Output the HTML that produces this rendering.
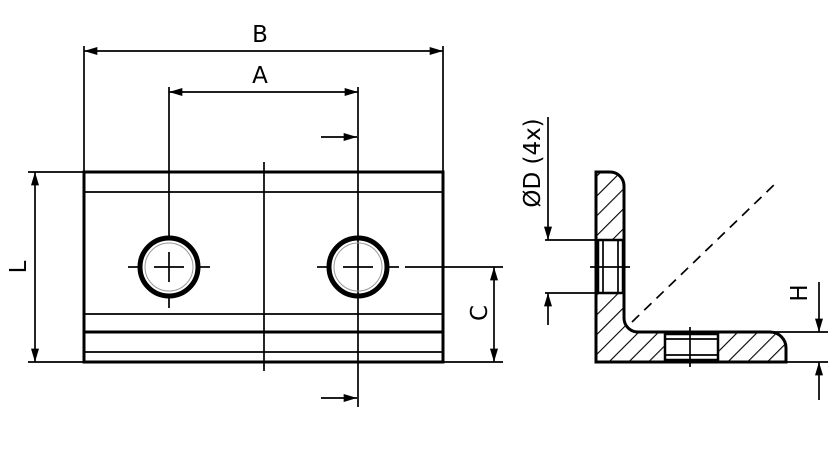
<!DOCTYPE html>
<html><head><meta charset="utf-8"><style>html,body{margin:0;padding:0;background:#fff}svg{display:block}</style></head><body>
<svg width="828" height="472" viewBox="0 0 828 472" xmlns="http://www.w3.org/2000/svg">
<defs>
<marker id="ar" viewBox="0 0 10 6" refX="10" refY="3" markerWidth="18" markerHeight="8" markerUnits="userSpaceOnUse" orient="auto-start-reverse"><path d="M0,0 L10,3 L0,6 Z" fill="#000"/></marker>
<pattern id="hat" patternUnits="userSpaceOnUse" width="14" height="14" patternTransform="rotate(45)"><line x1="0" y1="0" x2="0" y2="14" stroke="#000" stroke-width="2.2"/></pattern>
</defs>
<g fill="none" stroke="#000" stroke-width="1.7">
<line x1="84" y1="46" x2="84" y2="172"/><line x1="443" y1="46" x2="443" y2="172"/>
<line x1="84" y1="51" x2="443" y2="51" marker-start="url(#ar)" marker-end="url(#ar)"/>
<line x1="169" y1="87" x2="169" y2="240"/><line x1="358" y1="87" x2="358" y2="407"/>
<line x1="169" y1="92" x2="358" y2="92" marker-start="url(#ar)" marker-end="url(#ar)"/>
<line x1="169" y1="294" x2="169" y2="308"/>
<line x1="321" y1="137" x2="357" y2="137" marker-end="url(#ar)"/>
<line x1="321" y1="398" x2="357" y2="398" marker-end="url(#ar)"/>
<line x1="28" y1="172" x2="84" y2="172"/><line x1="28" y1="362" x2="84" y2="362"/>
<line x1="35" y1="172" x2="35" y2="362" marker-start="url(#ar)" marker-end="url(#ar)"/>
<line x1="405" y1="267" x2="503" y2="267"/><line x1="443" y1="362" x2="503" y2="362"/>
<line x1="494" y1="267" x2="494" y2="362" marker-start="url(#ar)" marker-end="url(#ar)"/>
<rect x="84" y="172" width="359" height="190" stroke-width="3"/>
<line x1="84" y1="192" x2="443" y2="192"/>
<line x1="84" y1="314" x2="443" y2="314"/>
<line x1="84" y1="332" x2="443" y2="332" stroke-width="3"/>
<line x1="84" y1="352" x2="443" y2="352"/>
<line x1="264" y1="162" x2="264" y2="371"/>
<circle cx="169" cy="267" r="29" stroke-width="5"/><circle cx="169" cy="267" r="24" stroke="#999" stroke-width="1"/>
<circle cx="358" cy="267" r="29" stroke-width="5"/><circle cx="358" cy="267" r="24" stroke="#999" stroke-width="1"/>
<line x1="128" y1="267" x2="138" y2="267"/><line x1="154" y1="267" x2="184" y2="267"/><line x1="200" y1="267" x2="210" y2="267"/>
<line x1="169" y1="252" x2="169" y2="282"/>
<line x1="317" y1="267" x2="327" y2="267"/><line x1="343" y1="267" x2="373" y2="267"/><line x1="389" y1="267" x2="399" y2="267"/>
<path d="M596,172 H610 A14,14 0 0 1 624,186 V318 A14,14 0 0 0 638,332 H770 A16,16 0 0 1 786,348 V362 H596 Z" fill="url(#hat)" stroke-width="3"/>
<rect x="598" y="240" width="25" height="53" fill="#fff" stroke-width="2.5"/>
<line x1="603" y1="240" x2="603" y2="293"/><line x1="618" y1="240" x2="618" y2="293"/>
<rect x="665" y="334" width="53" height="26" fill="#fff" stroke-width="2.5"/>
<line x1="665" y1="339" x2="718" y2="339"/><line x1="665" y1="355" x2="718" y2="355"/>
<line x1="590" y1="267" x2="630" y2="267"/>
<line x1="690" y1="327" x2="690" y2="367"/>
<line x1="632" y1="322" x2="777" y2="182" stroke-dasharray="10,7"/>
<line x1="545" y1="240" x2="598" y2="240"/><line x1="545" y1="293" x2="598" y2="293"/>
<line x1="548" y1="117" x2="548" y2="240" marker-end="url(#ar)"/>
<line x1="548" y1="325" x2="548" y2="293" marker-end="url(#ar)"/>
<line x1="720" y1="332" x2="828" y2="332"/><line x1="786" y1="362" x2="828" y2="362"/>
<line x1="819" y1="282" x2="819" y2="332" marker-end="url(#ar)"/>
<line x1="819" y1="400" x2="819" y2="362" marker-end="url(#ar)"/>
</g>
<g font-family="'DejaVu Sans','Liberation Sans',sans-serif" font-size="23" fill="#000" text-anchor="middle">
<text x="260" y="42">B</text>
<text x="260" y="83">A</text>
<text transform="translate(26,267) rotate(-90)">L</text>
<text transform="translate(487,313) rotate(-90)">C</text>
<text transform="translate(807,293) rotate(-90)">H</text>
<text transform="translate(540,163) rotate(-90)">ØD (4x)</text>
</g>
</svg>
</body></html>
